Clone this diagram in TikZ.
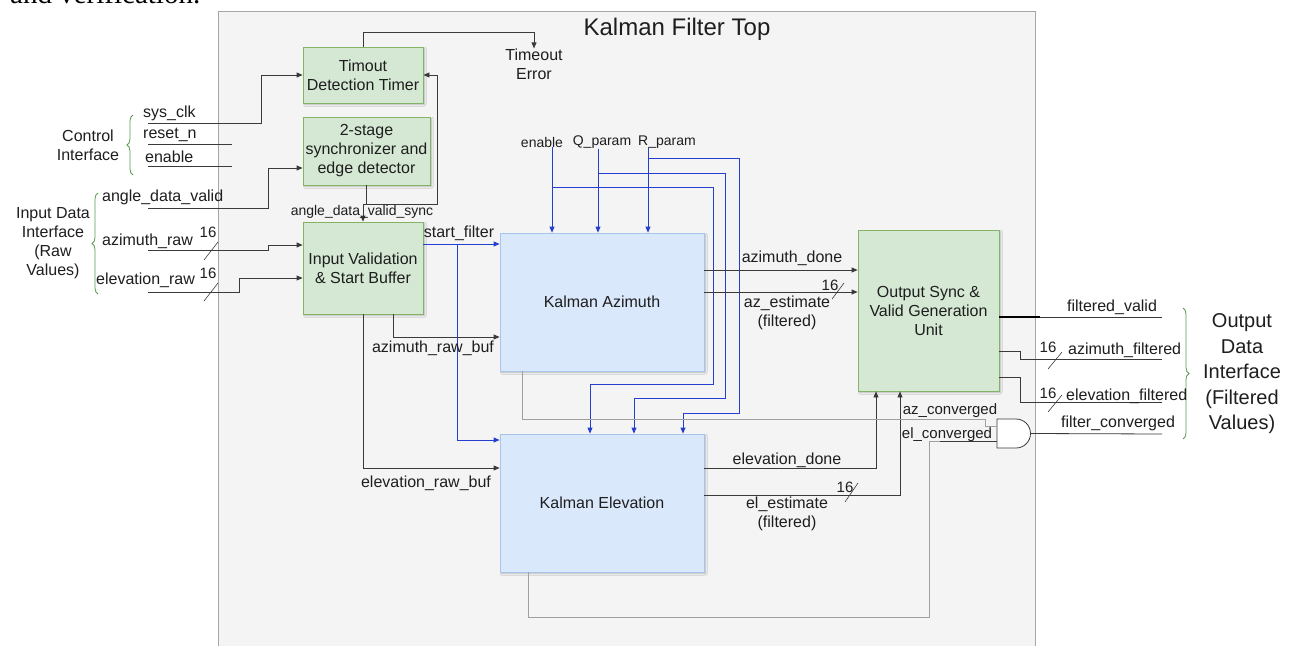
\documentclass[tikz,border=0pt]{standalone}
\usepackage{fontspec}
\setmainfont{Liberation Sans}
\newfontfamily\docserif{Liberation Serif}
\usetikzlibrary{arrows.meta,decorations.pathreplacing,shadows.blur}
\definecolor{frameC}{HTML}{F4F4F4}
\definecolor{frameD}{HTML}{A6A6A6}
\definecolor{greenF}{HTML}{D5E8D4}
\definecolor{greenD}{HTML}{82B366}
\definecolor{blueF}{HTML}{DAE8FC}
\definecolor{blueD}{HTML}{A9C4EB}
\definecolor{wireC}{HTML}{3A3A3A}
\definecolor{wireB}{HTML}{2540D0}
\definecolor{wireG}{HTML}{A0A0A0}
\definecolor{braceC}{HTML}{5A9E50}
\definecolor{txtC}{HTML}{1E1E1E}
\tikzset{
  lbl/.style={font=\fontsize{16}{19}\selectfont, inner sep=0pt, align=center, text=txtC},
  sml/.style={font=\fontsize{14}{17}\selectfont, inner sep=0pt, align=center, text=txtC},
  shd/.style={blur shadow={shadow xshift=1.5pt, shadow yshift=-1.5pt, shadow blur radius=1.5pt, shadow opacity=25}},
  gbox/.style={draw=greenD, fill=greenF, line width=0.8pt, align=center, inner sep=0pt, text=txtC, font=\fontsize{16}{19}\selectfont, shd},
  bbox/.style={draw=blueD, fill=blueF, line width=0.8pt, align=center, inner sep=0pt, text=txtC, font=\fontsize{16}{19}\selectfont, shd},
  wire/.style={draw=wireC, line width=0.8pt},
  bwire/.style={draw=wireB, line width=0.8pt},
  gwire/.style={draw=wireG, line width=0.8pt},
  arr/.style={-{Triangle[length=6pt,width=5pt]}},
  busslash/.style={draw=wireC, line width=0.6pt},
  bracest/.style={draw=braceC, line width=0.8pt, decorate, decoration={brace, amplitude=6pt}},
  gatest/.style={draw=wireC, fill=white, line width=0.8pt},
}
\begin{document}
\begin{tikzpicture}[x=1pt,y=-1pt]
\useasboundingbox (0,0) rectangle (1298,645);
\clip (0,0) rectangle (1298,645);
\fill[white] (0,0) rectangle (1298,645);
\node[anchor=base west, inner sep=0pt, font=\docserif\fontsize{29}{34}\selectfont, text=black] (doctext) at (10,3) {and verification.};

% frame
\draw[draw=frameD, fill=frameC, line width=0.8pt] (218,11) rectangle (1035,660);
\node[font=\fontsize{24}{28}\selectfont, text=txtC, inner sep=0pt] (title) at (677,29) {Kalman Filter Top};

% blocks
\node[gbox, minimum width=120pt, minimum height=56pt] (timer) at (363,75) {Timout\\Detection Timer};
\node[gbox, minimum width=127pt, minimum height=68pt] (sync) at (366.5,151) {2-stage\\synchronizer and\\edge detector};
\node[gbox, minimum width=120pt, minimum height=92pt] (ivb) at (363,268) {Input Validation\\\& Start Buffer};
\node[bbox, minimum width=204pt, minimum height=138pt] (ka) at (602,302) {Kalman Azimuth};
\node[bbox, minimum width=204pt, minimum height=138pt] (ke) at (602,503) {Kalman Elevation};
\node[gbox, minimum width=141pt, minimum height=161pt] (osu) at (928.5,310.5) {Output Sync \&\\Valid Generation\\Unit};

% AND gate
\draw[gatest] (997,419) -- (1016,419) arc[start angle=90, end angle=-90, radius=14.5pt] -- (997,448) -- cycle;
\coordinate (andin1) at (997,426);
\coordinate (andin2) at (997,441);
\coordinate (andout) at (1031,433.5);

% interface labels and braces
\node[lbl] (ctrlL) at (88,145) {Control\\Interface};
\draw[bracest] (133,175) -- (133,115);
\node[lbl] (inL) at (53,243) {Input Data\\Interface\\(Raw\\Values)};
\draw[bracest] (98,294) -- (98,193);
\node[font=\fontsize{20}{25.5}\selectfont, inner sep=0pt, align=center, text=txtC] (outL) at (1242,374) {Output\\Data\\Interface\\(Filtered\\Values)};
\draw[bracest] (1183,308) -- (1183,439);

% control inputs
\node[lbl, anchor=west] (sysclkL) at (143,113) {sys\_clk};
\node[lbl, anchor=west] (rstL) at (143,135) {reset\_n};
\node[lbl, anchor=west] (enCL) at (145,157) {enable};
\coordinate (sysS) at (148,123);
\coordinate (rstS) at (148,144); \coordinate (rstE) at (232,144);
\coordinate (enS) at (148,166); \coordinate (enE) at (232,166);
\draw[wire,arr] (sysS) -- (261,123) |- (timer.west);
\draw[wire] (rstS) -- (rstE);
\draw[wire] (enS) -- (enE);

% data inputs
\node[lbl, anchor=west] (advL) at (102,197) {angle\_data\_valid};
\node[lbl, anchor=west] (azrL) at (102,241) {azimuth\_raw};
\node[lbl, anchor=west] (elrL) at (96,280) {elevation\_raw};
\coordinate (advS) at (148,208);
\coordinate (azS) at (148,250);
\coordinate (elS) at (148,292);
\draw[wire,arr] (advS) -- (268,208) |- (sync.west |- 0,168);
\draw[wire,arr] (azS) -- (268,250) |- (ivb.west |- 0,245);
\draw[wire,arr] (elS) -- (239,292) |- (ivb.west |- 0,278);
\draw[busslash] (204,260) -- (218,242);
\node[lbl, font=\fontsize{15}{18}\selectfont] (b16a) at (208,232) {16};
\draw[busslash] (204,301) -- (218,283);
\node[lbl, font=\fontsize{15}{18}\selectfont] (b16b) at (208,273) {16};

% sync output
\coordinate (jn) at (363,204);
\draw[wire] (sync.south) -- (sync.south |- jn) -- (jn);
\draw[wire,arr] (jn) -- (ivb.north);
\draw[wire,arr] (jn) -- (437,204) |- (timer.east);
\node[sml] (advsL) at (362,212) {angle\_data\_valid\_sync};

% timeout
\node[lbl] (toE) at (534,64) {Timeout\\Error};
\draw[wire,arr] (timer.north) |- (534,32) -- (toE.north);

% start filter
\draw[bwire,arr] (ivb.east |- 0,244) -- (ka.west |- 0,244);
\draw[bwire,arr] (457,244) |- (ke.west |- 0,440);
\node[lbl] (sfL) at (459,233) {start\_filter};

% raw buffers
\draw[wire,arr] (ivb.south -| 393,0) |- (ka.west |- 0,337);
\node[lbl] (arbL) at (433,348) {azimuth\_raw\_buf};
\draw[wire,arr] (ivb.south) |- (ke.west |- 0,468);
\node[lbl] (erbL) at (426,483) {elevation\_raw\_buf};

% parameters
\node[sml] (enPL) at (542,142) {enable};
\node[sml] (qL) at (602,142) {Q\_param};
\node[sml] (rL) at (667,142) {R\_param};
\draw[bwire,arr] (enPL.south -| 552,0) -- (552,0 |- ka.north);
\draw[bwire,arr] (qL.south -| 598,0) -- (598,0 |- ka.north);
\draw[bwire,arr] (rL.south -| 648,0) -- (648,0 |- ka.north);
\draw[bwire,arr] (552,187) -- (713,187) -- (713,384) -- (590,384) -- (590,0 |- ke.north);
\draw[bwire,arr] (598,173) -- (725,173) -- (725,398) -- (634,398) -- (634,0 |- ke.north);
\draw[bwire,arr] (648,158) -- (739,158) -- (739,413) -- (683,413) -- (683,0 |- ke.north);

% azimuth outputs
\draw[wire,arr] (ka.east |- 0,270) -- (osu.west |- 0,270);
\node[lbl] (adL) at (792,258) {azimuth\_done};
\draw[wire,arr] (ka.east |- 0,292) -- (osu.west |- 0,292);
\draw[busslash] (832,299) -- (844,283);
\node[lbl, font=\fontsize{15}{18}\selectfont] (b16c) at (830,285) {16};
\node[lbl] (aeL) at (787,313) {az\_estimate\\(filtered)};

% elevation outputs
\draw[wire,arr] (ke.east |- 0,468) -| (osu.south -| 876,0);
\node[lbl] (edL) at (787,460) {elevation\_done};
\draw[wire,arr] (ke.east |- 0,495) -| (osu.south -| 900,0);
\draw[busslash] (845,502) -- (858,483);
\node[lbl, font=\fontsize{15}{18}\selectfont] (b16d) at (845,487) {16};
\node[lbl] (eeL) at (787,514) {el\_estimate\\(filtered)};

% converged
\draw[gwire] (ka.south -| 522,0) |- (985,419) |- (andin1);
\draw[gwire] (ke.south -| 528,0) |- (929,617) |- (andin2);
\draw[wire] (940,441) -- (andin2);
\node[sml, font=\fontsize{15}{18}\selectfont] (acL) at (950,411) {az\_converged};
\node[sml, font=\fontsize{15}{18}\selectfont] (ecL) at (947,435) {el\_converged};

% outputs
\coordinate (fvE) at (1162,317);
\coordinate (afE) at (1162,359);
\coordinate (efE) at (1162,402);
\coordinate (fcE) at (1162,434);
\draw[wire] (osu.east |- 0,317) -- (fvE);
\draw[draw=black, line width=1.4pt] (osu.east |- 0,317) -- (1040,317);
\draw[wire] (osu.east |- 0,351) -- (1020,351) |- (afE);
\draw[wire] (osu.east |- 0,377) -- (1020,377) |- (efE);
\draw[wire] (andout) -- (fcE);
\node[lbl] (fvL) at (1112,307) {filtered\_valid};
\node[lbl, anchor=west] (afL) at (1068,350) {azimuth\_filtered};
\node[lbl, anchor=west] (efL) at (1066,396) {elevation\_filtered};
\node[lbl] (fcL) at (1118,423) {filter\_converged};
\draw[busslash] (1048,369) -- (1062,352);
\node[lbl, font=\fontsize{15}{18}\selectfont] (b16e) at (1048,347) {16};
\draw[busslash] (1048,412) -- (1062,395);
\node[lbl, font=\fontsize{15}{18}\selectfont] (b16f) at (1048,393) {16};
\end{tikzpicture}
\end{document}
